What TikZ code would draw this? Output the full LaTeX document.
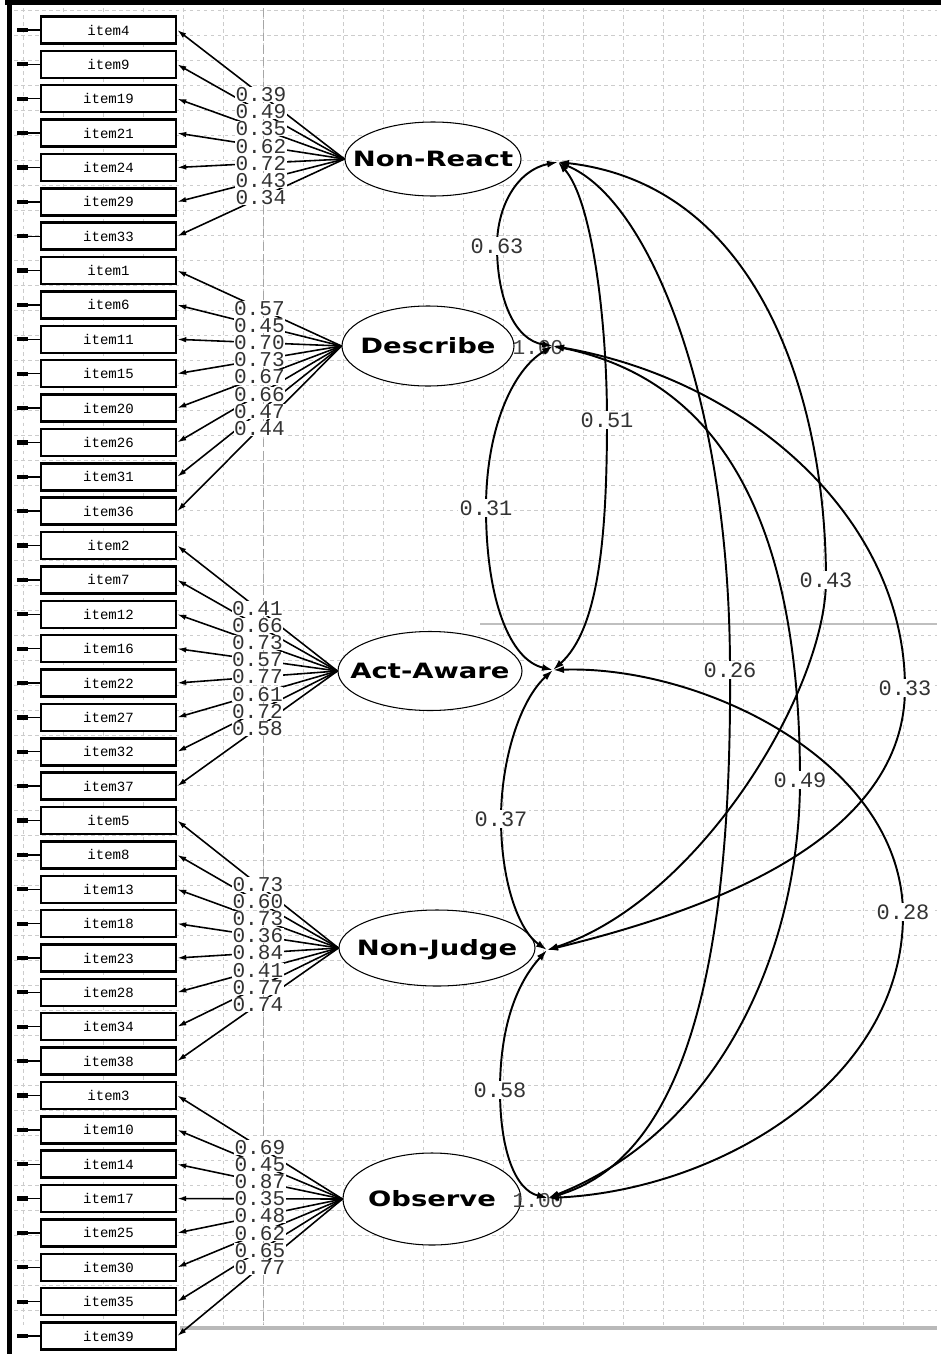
\documentclass[tikz,border=0pt]{standalone}
\usepackage{fontspec}
\setmonofont{Liberation Mono}
\newfontfamily\latentfont{DejaVu Sans}
\usetikzlibrary{arrows.meta,shapes.geometric}

\newcommand{\loadlist}{nreact/4/0.39, nreact/9/0.49, nreact/19/0.35, nreact/21/0.62,
  nreact/24/0.72, nreact/29/0.43, nreact/33/0.34,
  describe/1/0.57, describe/6/0.45, describe/11/0.70, describe/15/0.73,
  describe/20/0.67, describe/26/0.66, describe/31/0.47, describe/36/0.44,
  actaware/2/0.41, actaware/7/0.66, actaware/12/0.73, actaware/16/0.57,
  actaware/22/0.77, actaware/27/0.61, actaware/32/0.72, actaware/37/0.58,
  nonjudge/5/0.73, nonjudge/8/0.60, nonjudge/13/0.73, nonjudge/18/0.36,
  nonjudge/23/0.84, nonjudge/28/0.41, nonjudge/34/0.77, nonjudge/38/0.74,
  observe/3/0.69, observe/10/0.45, observe/14/0.87, observe/17/0.35,
  observe/25/0.48, observe/30/0.62, observe/35/0.65, observe/39/0.77}
\newcommand{\lvname}[1]{\scalebox{1.3}[1]{#1}}

\begin{document}
\begin{tikzpicture}[x=0.2mm, y=-0.2mm,
  gridline/.style={gray!40, line width=0.4pt, dash pattern=on 2pt off 2pt},
  itembox/.style={draw, rectangle, line width=1.4pt, fill=white, minimum width=27mm,
    minimum height=5.4mm, inner sep=0pt, font=\ttfamily\fontsize{8}{8}\selectfont},
  latent/.style={draw, ellipse, line width=0.6pt, fill=white, inner xsep=-30mm, inner ysep=-10mm,
    text height=8.7pt, text depth=0pt, font=\latentfont\bfseries\fontsize{12}{12}\selectfont},
  load/.style={line width=0.9pt, -{Latex[length=1.8mm, width=1.1mm]}},
  loadlab/.style={fill=white, inner sep=0.2pt, text=black!80, font=\ttfamily\fontsize{12}{12}\selectfont},
  corr/.style={line width=1.1pt, {Latex[length=2.2mm, width=1.4mm]}-{Latex[length=2.2mm, width=1.4mm]}},
  corrlab/.style={fill=white, inner sep=1pt, text=black!80, font=\ttfamily\fontsize{12.5}{12.5}\selectfont},
  varlab/.style={inner sep=0pt, text=black!75, font=\ttfamily\fontsize{12}{12}\selectfont},
  errline/.style={line width=0.8pt},
  errbar/.style={line width=2.4pt}]

  \useasboundingbox (0,0) rectangle (941,1354);
  \fill[white] (0,0) rectangle (941,1354);

  \foreach \gx in {23,63,...,903}
    \draw[gridline] (\gx,8) -- (\gx,1325);
  \foreach \gy in {10,35,...,1310}
    \draw[gridline] (14,\gy) -- (937,\gy);
  \draw[gray!70, line width=0.5pt, dash pattern=on 5pt off 2pt] (263,8) -- (263,1325);
  \draw[gray!50, line width=0.6pt] (480,624) -- (937,624);
  \draw[gray!55, line width=2.3pt] (180,1328) -- (937,1328);
  \fill[black] (5,0) rectangle (941,5);
  \fill[black] (7,0) rectangle (12,1354);

  \foreach \f/\i/\v [count=\k from 0] in \loadlist {
    \node[itembox] (i\i) at (108.5,{30+34.37*\k}) {item\i};
    \draw[errline] (i\i.west) -- ++(-12,0) coordinate (e\i);
    \draw[errbar] (e\i) -- ++(-11,0);
  }

  \node[latent, minimum width=35.2mm, minimum height=14.8mm] (nreact) at (433,159) {\lvname{Non-React}};
  \node[latent, minimum width=34.4mm, minimum height=16mm] (describe) at (428,346) {\lvname{Describe}};
  \node[latent, minimum width=36.8mm, minimum height=15.8mm] (actaware) at (430,671) {\lvname{Act-Aware}};
  \node[latent, minimum width=39.2mm, minimum height=15.2mm] (nonjudge) at (437,948) {\lvname{Non-Judge}};
  \node[latent, minimum width=35.6mm, minimum height=18.4mm] (observe) at (432,1199) {\lvname{Observe}};

  \foreach \f/\i/\v in \loadlist
    \draw[load] (\f.west) -- (i\i.east);
  \foreach \f/\i/\v in \loadlist
    \path (\f.west) -- (i\i.east) node[loadlab, midway] (l\i) {\v};

  \node[varlab] (dvar) at (538,348) {1.00};
  \node[varlab] (ovar) at (538,1201) {1.00};

  \coordinate (nrc) at (558,162);
  \coordinate (dec) at (553,346);
  \coordinate (aac) at (553,670);
  \coordinate (njc) at (547,950);
  \coordinate (obc) at (548,1198);

  \draw[corr] (nrc) .. controls (518,170) and (497,205) .. (497,246) node[corrlab] (r1) {0.63}
    .. controls (497,300) and (515,340) .. (dec);
  \draw[corr] (nrc) .. controls (592,200) and (607,320) .. (607,420) node[corrlab] (r2) {0.51}
    .. controls (607,540) and (598,630) .. (aac);
  \draw[corr] (nrc) .. controls (760,185) and (826,400) .. (826,580) node[corrlab] (r3) {0.43}
    .. controls (826,690) and (700,900) .. (njc);
  \draw[corr] (nrc) .. controls (650,200) and (730,400) .. (730,670) node[corrlab] (r4) {0.26}
    .. controls (732,980) and (680,1160) .. (obc);
  \draw[corr] (dec) .. controls (512,370) and (486,430) .. (486,508) node[corrlab] (r5) {0.31}
    .. controls (486,600) and (510,660) .. (aac);
  \draw[corr] (dec) .. controls (750,380) and (905,520) .. (905,688) node[corrlab] (r6) {0.33}
    .. controls (905,840) and (710,910) .. (njc);
  \draw[corr] (dec) .. controls (720,380) and (800,520) .. (800,780) node[corrlab] (r7) {0.49}
    .. controls (800,950) and (720,1130) .. (obc);
  \draw[corr] (aac) .. controls (520,700) and (501,760) .. (501,819) node[corrlab] (r8) {0.37}
    .. controls (501,880) and (518,930) .. (njc);
  \draw[corr] (aac) .. controls (700,665) and (900,760) .. (903,912) node[corrlab] (r9) {0.28}
    .. controls (905,1080) and (720,1190) .. (obc);
  \draw[corr] (njc) .. controls (515,985) and (500,1030) .. (500,1090) node[corrlab] (r10) {0.58}
    .. controls (500,1150) and (515,1190) .. (obc);
\end{tikzpicture}
\end{document}
